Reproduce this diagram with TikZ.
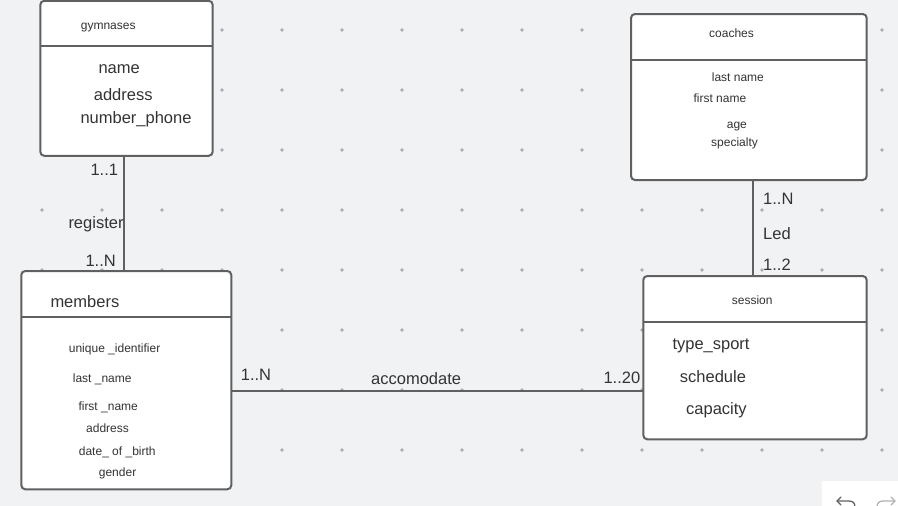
\documentclass[tikz,border=0pt]{standalone}
\usepackage{fontspec}
\setmainfont{Liberation Sans}
\definecolor{bg}{HTML}{F1F2F4}
\definecolor{linec}{HTML}{606060}
\definecolor{txt}{HTML}{333333}
\definecolor{dotc}{HTML}{ABADB2}
\tikzset{
  entity/.style={draw=linec, line width=2pt, fill=white, rounded corners=4pt, anchor=north west, inner sep=0pt, outer sep=0pt},
  hline/.style={draw=linec, line width=2pt},
  conn/.style={draw=linec, line width=2pt},
  big/.style={font=\fontsize{16.5}{18}\selectfont, text=txt, inner sep=0pt, anchor=base west},
  small/.style={font=\fontsize{12}{14}\selectfont, text=txt, inner sep=0pt, anchor=base west}
}
\begin{document}
\begin{tikzpicture}[x=1pt,y=-1pt]
\useasboundingbox[fill=bg] (0,0) rectangle (898,506);
% dot grid
\foreach \i in {0,...,14}{
  \foreach \j in {0,...,7}{
    \fill[dotc] (42+60*\i,30+60*\j) circle (1.9pt);
  }
}
% entities
\node[entity, minimum width=172.4pt, minimum height=155pt] (gym) at (40.3,0.8) {};
\node[entity, minimum width=210pt, minimum height=218.3pt] (mem) at (21.3,271) {};
\node[entity, minimum width=235.7pt, minimum height=166pt] (coa) at (631,14) {};
\node[entity, minimum width=223.4pt, minimum height=163.3pt] (ses) at (643.3,276) {};
% header lines
\coordinate (gymh) at (0,45.7);
\coordinate (memh) at (0,317);
\coordinate (coah) at (0,60);
\coordinate (sesh) at (0,322.3);
\draw[hline] (gym.west |- gymh) -- (gym.east |- gymh);
\draw[hline] (mem.west |- memh) -- (mem.east |- memh);
\draw[hline] (coa.west |- coah) -- (coa.east |- coah);
\draw[hline] (ses.west |- sesh) -- (ses.east |- sesh);
% connectors
\coordinate (c1) at (124,0);
\coordinate (c2) at (753,0);
\coordinate (c3) at (0,390.7);
\draw[conn] (gym.south -| c1) -- (mem.north -| c1);
\draw[conn] (coa.south -| c2) -- (ses.north -| c2);
\draw[conn] (mem.east |- c3) -- (ses.west |- c3);
% gymnases texts
\node[small] (tgym) at (80.7,30) {gymnases};
\node[big] (gname) at (98.3,73.3) {name};
\node[big] (gaddr) at (93.7,100) {address};
\node[big] (gphone) at (80.3,123.3) {number\_phone};
% register labels
\node[big] (l11) at (90.3,175) {1..1};
\node[big] (lreg) at (68.3,228.3) {register};
\node[big] (l1n) at (85.3,266.7) {1..N};
% members texts
\node[big] (tmem) at (50.3,307.3) {members};
\node[small] (m1) at (68.7,352.3) {unique \_identifier};
\node[small] (m2) at (72.7,382.7) {last \_name};
\node[small] (m3) at (78.3,410.7) {first \_name};
\node[small] (m4) at (86,432.7) {address};
\node[small] (m5) at (78.7,455) {date\_ of \_birth};
\node[small] (m6) at (98.7,476.7) {gender};
% accomodate labels
\node[big] (a1) at (240.7,380.7) {1..N};
\node[big] (a2) at (371,384) {accomodate};
\node[big] (a3) at (603.3,383.3) {1..20};
% coaches texts
\node[small] (tcoa) at (709,37.7) {coaches};
\node[small] (c_1) at (711.7,81) {last name};
\node[small] (c_2) at (693.3,102.7) {first name};
\node[small] (c_3) at (726.7,128.3) {age};
\node[small] (c_4) at (711,146.7) {specialty};
% led labels
\node[big] (d1) at (763,204) {1..N};
\node[big] (d2) at (763,239) {Led};
\node[big] (d3) at (763,270.7) {1..2};
% session texts
\node[small] (tses) at (731.7,304) {session};
\node[big] (s1) at (672.3,349) {type\_sport};
\node[big] (s2) at (679.7,382.3) {schedule};
\node[big] (s3) at (686,414) {capacity};
% undo/redo widget
\fill[white] (822,481) rectangle (898,506);
\draw[linec, line width=1.3pt, line cap=round, line join=round] (841,497) -- (837,501) -- (841,505);
\draw[linec, line width=1.3pt, line cap=round] (837,501) -- (849,501) .. controls (854,501) and (855,504) .. (855,508);
\draw[gray!60, line width=1.3pt, line cap=round, line join=round] (891,497) -- (895,501) -- (891,505);
\draw[gray!60, line width=1.3pt, line cap=round] (895,501) -- (883,501) .. controls (878,501) and (877,504) .. (877,508);
\end{tikzpicture}
\end{document}
